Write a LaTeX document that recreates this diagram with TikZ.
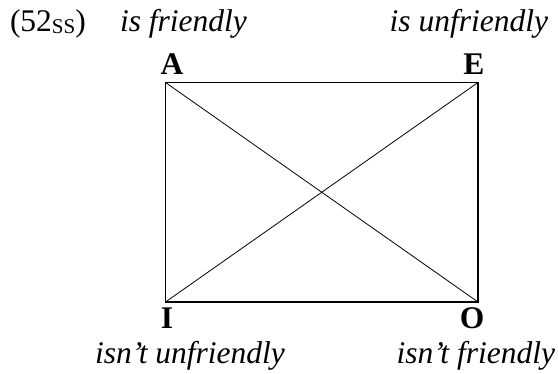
\documentclass[tikz,border=0pt]{standalone}
\usepackage{fontspec}
\setmainfont{Liberation Serif}
\begin{document}
\begin{tikzpicture}[x=1pt,y=1pt,
  lbl/.style={text=drawColor,inner sep=0pt,outer sep=0pt,font=\fontsize{31.5}{36}\selectfont},
  corner/.style={lbl,anchor=base,font=\fontsize{31.5}{36}\selectfont\bfseries},
  gloss/.style={lbl,font=\fontsize{31.5}{36}\selectfont\itshape},
  side/.style={draw=drawColor,line width=1.5pt,line join=miter},
  diag/.style={draw=drawColor,line width=0.8pt}]
\definecolor{fillColor}{RGB}{255,255,255}
\definecolor{drawColor}{RGB}{0,0,0}
\path[use as bounding box,fill=fillColor] (0,0) rectangle (558,374);

% square of opposition
\coordinate (nw) at (165.5,291.5);
\coordinate (ne) at (478.0,291.5);
\coordinate (sw) at (165.5, 72.0);
\coordinate (se) at (478.0, 72.0);

\path[side] (nw) -- (ne) -- (se) -- (sw) -- cycle;
\path[diag] (nw) -- (se);
\path[diag] (sw) -- (ne);

% example number and glosses
\node[lbl,anchor=base west] (num) at ( 10.00,342.00) {(52\raisebox{-2pt}{\fontsize{21}{21}\selectfont SS})};

\node[gloss,anchor=base west] (glA) at (120.00,342.00) {is friendly};

\node[gloss,anchor=base east] (glE) at (548.00,342.00) {is unfriendly};

\node[gloss,anchor=base west] (glI) at ( 95.00, 10.00) {isn’t unfriendly};

\node[gloss,anchor=base east] (glO) at (555.00, 10.00) {isn’t friendly};

% corner letters
\node[corner] (A) at (172.00,299.00) {A};

\node[corner] (E) at (474.00,299.00) {E};

\node[corner] (I) at (167.00, 45.00) {I};

\node[corner] (O) at (472.00, 45.00) {O};
\end{tikzpicture}
\end{document}
